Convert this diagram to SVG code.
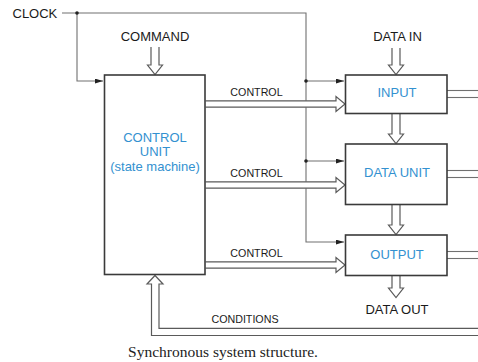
<svg xmlns="http://www.w3.org/2000/svg" width="478" height="362" viewBox="0 0 478 362">
<style>
.box{fill:#fff;stroke:#3a3a3a;stroke-width:1.6}
.ln{fill:none;stroke:#707070;stroke-width:1.1}
.ha{fill:#fff;stroke:#5a5a5a;stroke-width:1.2;stroke-linejoin:miter}
.lbl{font-family:"Liberation Sans",Arial,sans-serif;font-size:13px;fill:#1a1a1a;text-anchor:middle}
.sm{font-family:"Liberation Sans",Arial,sans-serif;font-size:10.7px;fill:#1a1a1a;text-anchor:middle}
.bl{font-family:"Liberation Sans",Arial,sans-serif;font-size:13px;fill:#3391d0;text-anchor:middle}
.cap{font-family:"Liberation Serif","Times New Roman",serif;font-size:15.5px;fill:#222;text-anchor:middle}
</style>
<defs>
<marker id="ah" viewBox="0 0 10 6" refX="10" refY="3" markerWidth="8" markerHeight="5" markerUnits="userSpaceOnUse" orient="auto">
<path d="M0,0 L10,3 L0,6 z" fill="#222"/>
</marker>
</defs>
<g id="connectors">
<!-- clock -->
<polyline class="ln" points="62,13 306,13 306,242 344,242" marker-end="url(#ah)"/>
<polyline class="ln" points="77,13 77,81 103,81" marker-end="url(#ah)"/>
<line class="ln" x1="306" y1="81" x2="344" y2="81" marker-end="url(#ah)"/>
<line class="ln" x1="306" y1="161" x2="344" y2="161" marker-end="url(#ah)"/>
<circle cx="77" cy="13" r="1.8" fill="#222"/>
<circle cx="306" cy="81" r="1.8" fill="#222"/>
<circle cx="306" cy="161" r="1.8" fill="#222"/>
<!-- command -->
<polyline class="ha" points="151,47 151,65 147.5,65 155,74.5 162.5,65 159,65 159,47"/>
<!-- data in -->
<polyline class="ha" points="392,48 392,65 388.5,65 396,74.5 403.5,65 400,65 400,48"/>
<!-- input -> data unit -->
<polyline class="ha" points="392,113.5 392,134 388.5,134 396,143.5 403.5,134 400,134 400,113.5"/>
<!-- data unit -> output -->
<polyline class="ha" points="392,204.5 392,225 388.5,225 396,234.5 403.5,225 400,225 400,204.5"/>
<!-- output -> data out -->
<polyline class="ha" points="392,275.5 392,288 388.5,288 396,297.5 403.5,288 400,288 400,275.5"/>
<!-- control arrows -->
<polyline class="ha" points="205.5,100.8 336,100.8 336,96.5 345,104 336,111.5 336,107.2 205.5,107.2"/>
<polyline class="ha" points="205.5,181.8 336,181.8 336,177.5 345,185 336,192.5 336,188.2 205.5,188.2"/>
<polyline class="ha" points="205.5,261.8 336,261.8 336,257.5 345,265 336,272.5 336,268.2 205.5,268.2"/>
<!-- outputs to right -->
<line class="ln" x1="447" y1="90.5" x2="478" y2="90.5"/>
<line class="ln" x1="447" y1="97.5" x2="478" y2="97.5"/>
<line class="ln" x1="447" y1="170.5" x2="478" y2="170.5"/>
<line class="ln" x1="447" y1="177.5" x2="478" y2="177.5"/>
<line class="ln" x1="447" y1="251.5" x2="478" y2="251.5"/>
<line class="ln" x1="447" y1="258.5" x2="478" y2="258.5"/>
<!-- conditions -->
<polyline class="ha" points="479,328.3 159,328.3 159,284 163,284 155,275.5 147,284 151.5,284 151.5,335.5 479,335.5"/>
<text class="sm" x="256.5" y="96">CONTROL</text>
<text class="sm" x="256.5" y="177">CONTROL</text>
<text class="sm" x="256.5" y="257.3">CONTROL</text>
<text class="sm" x="245" y="323.3">CONDITIONS</text>
</g>
<g id="control-unit">
<rect class="box" x="104.5" y="75" width="100.5" height="199.5"/>
<text class="bl" x="155" y="142">CONTROL</text>
<text class="bl" x="155" y="156.3">UNIT</text>
<text class="bl" x="155" y="170.5">(state machine)</text>
</g>
<g id="input">
<rect class="box" x="345.5" y="75" width="101.5" height="38.5"/>
<text class="bl" x="397" y="97">INPUT</text>
</g>
<g id="data-unit">
<rect class="box" x="345.5" y="144" width="101.5" height="60.5"/>
<text class="bl" x="397" y="177.3">DATA UNIT</text>
</g>
<g id="output">
<rect class="box" x="345.5" y="235" width="101.5" height="40.5"/>
<text class="bl" x="397" y="259">OUTPUT</text>
</g>
<g id="labels">
<text class="lbl" x="12.5" y="17.5" style="text-anchor:start">CLOCK</text>
<text class="lbl" x="155" y="41.3">COMMAND</text>
<text class="lbl" x="397.5" y="41.3">DATA IN</text>
<text class="lbl" x="397" y="313.5">DATA OUT</text>
<text class="cap" x="223" y="356.5">Synchronous system structure.</text>
</g>
</svg>
